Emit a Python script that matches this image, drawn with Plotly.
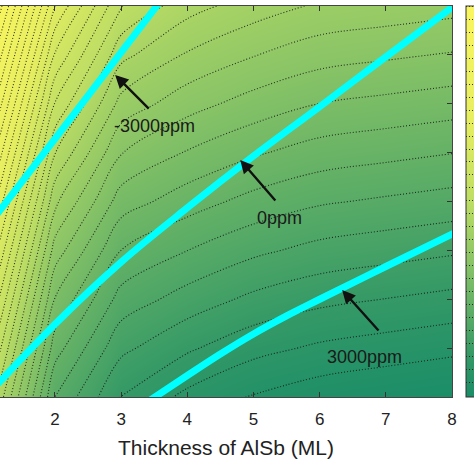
import plotly.graph_objects as go

# grid axes
x_thick_alsb = [1, 2, 3, 4, 5, 6, 7, 8]
y_thick = [2, 3, 4, 5, 6, 7, 8, 9, 10]

# field values per column (x = 1..8), listed bottom (y=2) to top (y=10)
col_x1 = [14.0, 15.7, 17.45, 19.25, 21.1, 23.0, 24.95, 26.95, 29.0]
col_x2 = [5.0, 6.45, 7.95, 9.55, 11.25, 13.05, 14.95, 16.9, 19.0]
col_x3 = [1.95, 3.25, 4.60, 6.00, 7.50, 9.05, 10.65, 12.30, 14.03]
col_x4 = [0.75, 2.15, 3.57, 5.01, 6.46, 7.92, 9.40, 10.89, 12.39]
col_x5 = [-0.1, 1.33, 2.77, 4.22, 5.67, 7.13, 8.59, 10.05, 11.51]
col_x6 = [-0.6, 0.83, 2.26, 3.69, 5.12, 6.56, 7.99, 9.42, 10.85]
col_x7 = [-0.9, 0.54, 1.98, 3.41, 4.85, 6.29, 7.73, 9.16, 10.6]
col_x8 = [-1.18, 0.26, 1.71, 3.15, 4.59, 6.03, 7.48, 8.92, 10.36]

# iso-strain lines
strain_m3000_x = [1.0, 2.0, 3.0, 3.6]
strain_m3000_y = [5.52, 7.28, 9.05, 10.11]
strain_0_x = [1.0, 2.0, 3.0, 4.0, 5.0, 6.0, 7.0, 8.0]
strain_0_y = [2.07, 3.49, 4.76, 5.87, 6.93, 7.94, 8.96, 9.97]
strain_p3000_x = [3.4, 4.0, 4.5, 5.0, 5.5, 6.0, 7.0, 8.1]
strain_p3000_y = [1.9, 2.44, 2.88, 3.29, 3.66, 4.0, 4.67, 5.4]

labels = ["-3000ppm", "0ppm", "3000ppm"]
arrow_tip_x = [2.91, 4.80, 6.34]
arrow_tip_y = [8.59, 6.85, 4.19]
arrow_tail_x = [3.44, 5.35, 6.91]
arrow_tail_y = [7.87, 5.99, 3.33]
label_x = [3.51, 5.40, 6.68]
label_y = [7.54, 5.66, 2.82]

x_ticks = [2, 3, 4, 5, 6, 7, 8]

cols = [col_x1, col_x2, col_x3, col_x4, col_x5, col_x6, col_x7, col_x8]
z = [[c[j] for c in cols] for j in range(len(y_thick))]

# summer-like colour ramp (teal -> yellow)
summer = [
    [0.0, "rgb(26,141,104)"],
    [0.105, "rgb(52,153,102)"],
    [0.205, "rgb(88,171,102)"],
    [0.337, "rgb(135,195,102)"],
    [0.503, "rgb(190,222,100)"],
    [0.70, "rgb(230,238,96)"],
    [1.0, "rgb(250,246,95)"],
]

fig = go.Figure()
fig.add_trace(go.Contour(
    x=x_thick_alsb, y=y_thick, z=z,
    colorscale=summer, zmin=-1.18, zmax=29.0,
    autocontour=False,
    contours=dict(start=0, end=29, size=1, coloring="heatmap"),
    line=dict(color="rgba(20,20,20,0.85)", width=1.1, dash="1px,2px"),
    colorbar=dict(x=1.031, xanchor="left", xpad=0, ypad=0, y=0.5, yanchor="middle", len=1.0,
                  thickness=24, outlinecolor="#333", outlinewidth=1,
                  showticklabels=False, ticks=""),
    hoverinfo="skip",
))

for xs, ys in [(strain_m3000_x, strain_m3000_y), (strain_0_x, strain_0_y),
               (strain_p3000_x, strain_p3000_y)]:
    fig.add_trace(go.Scatter(x=xs, y=ys, mode="lines",
                             line=dict(color="#00ffff", width=7, shape="spline"),
                             showlegend=False, hoverinfo="skip"))

for i in range(3):
    fig.add_annotation(x=arrow_tip_x[i], y=arrow_tip_y[i], ax=arrow_tail_x[i], ay=arrow_tail_y[i],
                       xref="x", yref="y", axref="x", ayref="y", text="",
                       showarrow=True, arrowhead=2, arrowsize=1.1, arrowwidth=2.4,
                       arrowcolor="#111")
    fig.add_annotation(x=label_x[i], y=label_y[i], xref="x", yref="y", text=labels[i],
                       showarrow=False, font=dict(family="Liberation Sans, Arial", size=18, color="#1a1a1a"))

fig.update_layout(
    width=474, height=474,
    margin=dict(l=0, r=22, t=6, b=77, autoexpand=False),
    paper_bgcolor="white", plot_bgcolor="white",
    showlegend=False,
    font=dict(family="Liberation Sans, Arial", color="#222"),
    xaxis=dict(range=[1.17, 8], tickvals=x_ticks, ticks="inside", ticklen=5, tickcolor="#333",
               showline=True, linecolor="#444", linewidth=1, mirror="ticks",
               tickfont=dict(size=17, color="#222"), ticklabelstandoff=7,
               showgrid=False, zeroline=False,
               title=dict(text="Thickness of AlSb (ML)", font=dict(size=21, color="#222"), standoff=11)),
    yaxis=dict(range=[2, 10], dtick=1, side="right", ticks="inside", ticklen=5, tickcolor="#333",
               showline=True, linecolor="#444", linewidth=1, mirror=True,
               showticklabels=False, showgrid=False, zeroline=False),
)

fig.write_html("out.html", config={"displayModeBar": False},
               post_script="document.body.style.margin='0';document.body.style.overflow='hidden';")
